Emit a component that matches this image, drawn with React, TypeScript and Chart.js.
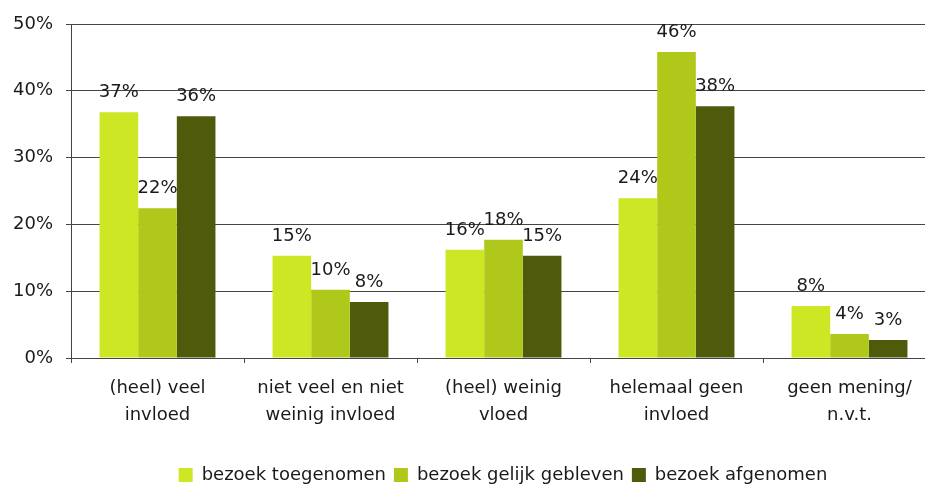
import React, { useEffect, useRef } from "react";
import { Chart, registerables } from "chart.js";

Chart.register(...registerables);

const categories: string[][] = [
  ["(heel) veel", "invloed"],
  ["niet veel en niet", "weinig invloed"],
  ["(heel) weinig", "vloed"],
  ["helemaal geen", "invloed"],
  ["geen mening/", "n.v.t."],
];

const seriesNames = ["bezoek toegenomen", "bezoek gelijk gebleven", "bezoek afgenomen"];
const toegenomen = [36.8, 15.3, 16.2, 23.9, 7.8];
const gelijkGebleven = [22.4, 10.2, 17.7, 45.8, 3.6];
const afgenomen = [36.2, 8.4, 15.3, 37.7, 2.7];
const seriesColors = ["#CDE724", "#B0C81A", "#4F5A0B"];

const yMin = 0;
const yMax = 50;
const yStep = 10;

const FONT = "DejaVu Sans";
const TEXT = "#1a1a1a";
const GRID = "#454545";

const valueLabels = {
  id: "valueLabels",
  afterDatasetsDraw(chart: any) {
    const ctx = chart.ctx;
    ctx.save();
    ctx.font = `18px "${FONT}"`;
    ctx.fillStyle = TEXT;
    ctx.textAlign = "center";
    ctx.textBaseline = "alphabetic";
    chart.data.datasets.forEach((ds: any, i: number) => {
      const meta = chart.getDatasetMeta(i);
      meta.data.forEach((el: any, j: number) => {
        const v = ds.data[j];
        ctx.fillText(Math.round(v) + "%", el.x, el.y - 15);
      });
    });
    ctx.restore();
  },
};

const legendShift = {
  id: "legendShift",
  afterLayout(chart: any) {
    if (chart.legend) {
      chart.legend.left += 31;
      chart.legend.right += 31;
    }
  },
};

export default function App() {
  const ref = useRef<HTMLCanvasElement | null>(null);

  useEffect(() => {
    if (!ref.current) return;
    const chart = new Chart(ref.current, {
      type: "bar",
      data: {
        labels: categories,
        datasets: [
          { label: seriesNames[0], data: toegenomen, backgroundColor: seriesColors[0] },
          { label: seriesNames[1], data: gelijkGebleven, backgroundColor: seriesColors[1] },
          { label: seriesNames[2], data: afgenomen, backgroundColor: seriesColors[2] },
        ],
      },
      options: {
        responsive: false,
        animation: false,
        layout: { padding: { top: 16, left: 0, right: 0, bottom: 0 } },
        datasets: {
          bar: { categoryPercentage: 0.67, barPercentage: 1.0 },
        },
        plugins: {
          tooltip: { enabled: false },
          legend: {
            position: "bottom",
            labels: {
              font: { family: FONT, size: 18 },
              color: TEXT,
              boxWidth: 14,
              boxHeight: 14,
              padding: 8,
            },
          },
        },
        scales: {
          x: {
            grid: {
              display: true,
              drawOnChartArea: false,
              drawTicks: true,
              tickLength: 5,
              color: GRID,
              offset: true,
            },
            border: { display: true, color: GRID },
            ticks: {
              font: { family: FONT, size: 18, lineHeight: 1.5 },
              color: TEXT,
              padding: 12,
              maxRotation: 0,
              autoSkip: false,
            },
            afterFit(scale: any) {
              scale.height = 100;
              scale.paddingLeft = 0;
              scale.paddingRight = 0;
            },
          },
          y: {
            min: yMin,
            max: yMax,
            grid: {
              color: GRID,
              tickLength: 5,
              drawTicks: true,
            },
            border: { display: true, color: GRID },
            ticks: {
              stepSize: yStep,
              font: { family: FONT, size: 18 },
              color: TEXT,
              padding: 13,
              callback: (v: any) => v + "%",
            },
            afterFit(scale: any) {
              scale.width = 63;
              scale.paddingTop = 0;
              scale.paddingBottom = 0;
            },
          },
        },
      },
      plugins: [valueLabels, legendShift],
    });
    return () => chart.destroy();
  }, []);

  return (
    <div style={{ position: "fixed", left: 0, top: 0, width: 925, height: 484, overflow: "hidden", background: "#fff" }}>
      <canvas
        ref={ref}
        width={928}
        height={486}
        style={{ position: "absolute", left: 8, top: 8, display: "block", width: 928, height: 486 }}
      />
    </div>
  );
}
